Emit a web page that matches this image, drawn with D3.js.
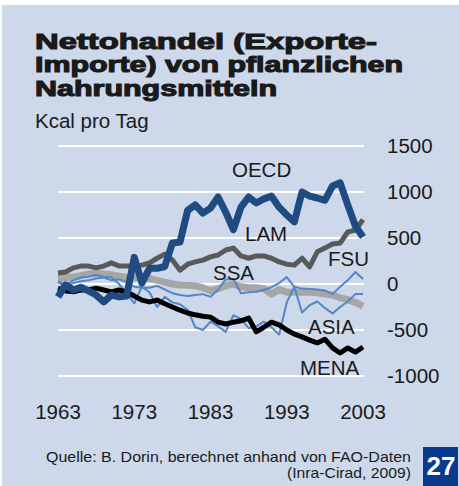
<!DOCTYPE html>
<html>
<head>
<meta charset="utf-8">
<script src="https://cdn.jsdelivr.net/npm/d3@7"></script>
<style>
  html, body { margin: 0; padding: 0; background: #fff; }
  svg { display: block; }
</style>
</head>
<body>
<svg id="chart"></svg>
<script>
// years 1963..2003
const years = [1963,1964,1965,1966,1967,1968,1969,1970,1971,1972,1973,1974,1975,1976,1977,1978,1979,1980,1981,1982,1983,
  1984,1985,1986,1987,1988,1989,1990,1991,1992,1993,1994,1995,1996,1997,1998,1999,2000,2001,2002,2003];

const oecd = [-140,-10,-65,-35,-75,-120,-195,-120,-140,-130,290,10,170,170,190,445,455,800,860,770,825,
  945,780,590,835,945,880,925,955,835,750,675,1000,955,935,910,1065,1100,860,630,510];
const lam = [120,130,175,195,195,175,195,230,195,195,195,205,230,280,325,260,150,215,240,260,295,
  315,370,390,305,280,305,305,280,240,215,205,280,185,350,390,435,445,565,585,700];
const ssa = [60,70,75,90,110,115,110,100,85,70,65,70,60,40,20,0,-10,-15,-20,-40,-75,
  -50,-20,0,-30,-40,-40,-50,-110,-60,-90,-90,-90,-90,-95,-110,-120,-150,-170,-200,-240];
const fsu = [30,-10,40,70,80,100,80,70,0,-100,-210,-30,-90,-250,-140,-200,-220,-280,-470,-500,-410,
  -460,-520,-340,-380,-480,-460,-410,-470,-550,-200,-30,-50,-55,-60,-70,-110,-30,40,130,55];
const asia = [20,-30,10,30,40,60,70,40,50,20,-30,-40,-40,-20,-60,-100,-120,-130,-120,-110,-140,
  -60,50,55,-100,-90,-85,-65,-35,10,75,-30,-310,-230,-190,-260,-320,-250,-190,-110,-110];
const mena = [-45,-75,-85,-65,-65,-45,-65,-85,-65,-85,-130,-175,-195,-175,-215,-250,-285,-315,-335,-350,-360,
  -415,-435,-415,-400,-370,-520,-470,-415,-445,-500,-545,-575,-610,-640,-600,-695,-750,-695,-740,-685];

const yTicks = [1500, 1000, 500, 0, -500, -1000];
const xTicks = [1963, 1973, 1983, 1993, 2003];

const titleLines = ["Nettohandel (Exporte-", "Importe) von pflanzlichen", "Nahrungsmitteln"];

const W = 459, H = 486;
const font = "Liberation Sans, Arial, sans-serif";
const svg = d3.select("#chart").attr("width", W).attr("height", H);

svg.append("rect").attr("x", 2).attr("y", 5).attr("width", W - 2).attr("height", H - 5)
  .attr("fill", "#cdd8ea");

const x = d3.scaleLinear().domain([1963, 2003]).range([58, 363]);
const y = d3.scaleLinear().domain([-1000, 1500]).range([376, 146]);

// title (stretched bold to look like the heavy original face)
const titleLens = [342, 368, 242];
const titleY = [49, 72, 96];
svg.append("g").selectAll("text").data(titleLines).enter().append("text")
  .attr("x", 35).attr("y", (d, i) => titleY[i])
  .attr("textLength", (d, i) => titleLens[i])
  .attr("lengthAdjust", "spacingAndGlyphs")
  .attr("font-family", font)
  .attr("font-weight", "bold").attr("font-size", 22)
  .attr("fill", "#1a1a1a").attr("stroke", "#1a1a1a").attr("stroke-width", 1.1)
  .text(d => d);

svg.append("text").attr("x", 35).attr("y", 128)
  .attr("font-family", font).attr("font-size", 20.5)
  .attr("fill", "#1a1a1a").text("Kcal pro Tag");

// grid
svg.append("g").selectAll("line").data(yTicks).enter().append("line")
  .attr("x1", 58).attr("x2", 364)
  .attr("y1", d => y(d)).attr("y2", d => y(d))
  .attr("stroke", "#fff").attr("stroke-width", 2);

// y labels
svg.append("g").selectAll("text").data(yTicks).enter().append("text")
  .attr("x", 387).attr("y", d => y(d) + 7)
  .attr("font-family", font).attr("font-size", 20.5)
  .attr("fill", "#1a1a1a").text(d => d);

// x labels
svg.append("g").selectAll("text").data(xTicks).enter().append("text")
  .attr("x", d => x(d)).attr("y", 419).attr("text-anchor", "middle")
  .attr("font-family", font).attr("font-size", 20.5)
  .attr("fill", "#1a1a1a").text(d => d);

// series
const series = [
  { values: ssa, color: "#a6a6a6", width: 7 },
  { values: lam, color: "#595959", width: 5 },
  { values: fsu, color: "#5585c6", width: 2 },
  { values: asia, color: "#5585c6", width: 2 },
  { values: mena, color: "#000000", width: 5 },
  { values: oecd, color: "#1f4b82", width: 7 }
];

const line = d3.line().x((d, i) => x(years[i])).y(d => y(d));

svg.append("g").selectAll("path").data(series).enter().append("path")
  .attr("d", d => line(d.values))
  .attr("fill", "none")
  .attr("stroke", d => d.color)
  .attr("stroke-width", d => d.width)
  .attr("stroke-linejoin", "round");

// series labels
const labels = [
  { t: "OECD", x: 232, y: 177 },
  { t: "LAM", x: 245, y: 241 },
  { t: "SSA", x: 213, y: 280 },
  { t: "FSU", x: 328, y: 266 },
  { t: "ASIA", x: 308, y: 334 },
  { t: "MENA", x: 300, y: 375 }
];
svg.append("g").selectAll("text").data(labels).enter().append("text")
  .attr("x", d => d.x).attr("y", d => d.y)
  .attr("font-family", font).attr("font-size", 20.5)
  .attr("fill", "#1a1a1a").text(d => d.t);

// source
svg.append("text").attr("x", 411).attr("y", 462).attr("text-anchor", "end")
  .attr("font-family", font).attr("font-size", 14.5)
  .attr("textLength", 365).attr("lengthAdjust", "spacingAndGlyphs")
  .attr("fill", "#1a1a1a").text("Quelle: B. Dorin, berechnet anhand von FAO-Daten");
svg.append("text").attr("x", 411).attr("y", 478).attr("text-anchor", "end")
  .attr("font-family", font).attr("font-size", 14.5)
  .attr("textLength", 124).attr("lengthAdjust", "spacingAndGlyphs")
  .attr("fill", "#1a1a1a").text("(Inra-Cirad, 2009)");

// page number box
svg.append("rect").attr("x", 423).attr("y", 447).attr("width", 35).attr("height", 39)
  .attr("fill", "#0a3a8e");
svg.append("text").attr("x", 441).attr("y", 475).attr("text-anchor", "middle")
  .attr("font-family", font).attr("font-weight", "bold")
  .attr("font-size", 26).attr("fill", "#fff").text("27");
</script>
</body>
</html>
